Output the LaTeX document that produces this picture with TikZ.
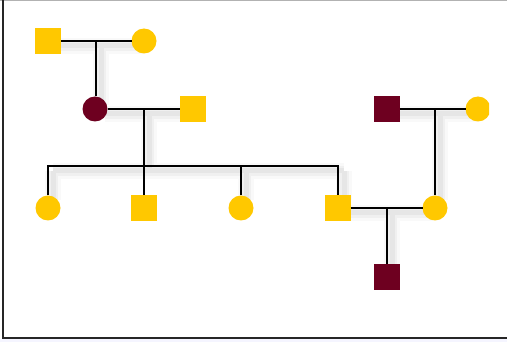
\documentclass[tikz,border=0pt]{standalone}
\usetikzlibrary{calc}
\definecolor{pyellow}{HTML}{FFC800}
\definecolor{pred}{HTML}{6E0020}
\tikzset{
  x=1pt,y=-1pt,
  sq/.style={rectangle,minimum size=25.5pt,inner sep=0pt,outer sep=0pt},
  ci/.style={circle,minimum size=25pt,inner sep=0pt,outer sep=0pt},
  yel/.style={fill=pyellow},
  red/.style={fill=pred},
  link/.style={line width=2pt,black},
  shadeA/.style={line width=16pt,black,opacity=0.025},
  shadeB/.style={line width=10pt,black,opacity=0.035},
  shadeC/.style={line width=5pt,black,opacity=0.04},
}
\newcommand{\shadowpath}{(50,41) -- (138,41) (96,41) -- (96,100) (100,109) -- (186,109) (144,109) -- (144,166)
  (48,166) -- (339,166) (48,166) -- (48,195) (241,166) -- (241,195) (339,166) -- (339,195)
  (392,109) -- (472,109) (435,109) -- (435,195) (345,208) -- (428,208) (387,208) -- (387,265)}
\begin{document}
\begin{tikzpicture}
\useasboundingbox (0,0) rectangle (507,342);
\fill[white] (0,0) rectangle (507,342);
\fill[blue!4] (0,339) rectangle (507,342);
% coordinates
\coordinate (j1) at (96,41);
\coordinate (j2) at (144,109);
\coordinate (s0) at (144,166);
\coordinate (j3) at (435,109);
\coordinate (j4) at (387,208);
% soft shadows
\begin{scope}[shift={(5,5)}]
\draw[shadeA] \shadowpath;
\draw[shadeB] \shadowpath;
\draw[shadeC] \shadowpath;
\end{scope}
\begin{scope}
\clip (0,0) rectangle (489,342);
\node[sq,yel] (gf) at (48,41) {};
\node[ci,yel] (gm) at (144,41) {};
\node[ci,red] (m) at (95,109) {};
\node[sq,yel] (f) at (193,109) {};
\node[ci,yel] (c1) at (48,208) {};
\node[sq,yel] (c2) at (144,208) {};
\node[ci,yel] (c3) at (241,208) {};
\node[sq,yel] (c4) at (338,208) {};
\node[sq,red] (rf) at (387,109) {};
\node[ci,yel] (rm) at (478,109) {};
\node[ci,yel] (w) at (435,208) {};
\node[sq,red] (ch) at (387,277) {};
\end{scope}
% connectors
\draw[link] (gf.east) -- (gm.west);
\draw[link] (j1) -- (j1 |- m.north);
\draw[link] (m.east) -- (f.west);
\draw[link] (j2) -- (s0);
\draw[link] (c1.north) |- (c4.north |- s0) -- (c4.north);
\draw[link] (c2.north) -- (c2.north |- s0);
\draw[link] (c3.north) -- (c3.north |- s0);
\draw[link] (rf.east) -- (rm.west);
\draw[link] (j3) -- (w.north);
\draw[link] (c4.east) -- (w.west);
\draw[link] (j4) -- (ch.north);
% frame
\draw[black!30,line width=1pt] (0,0.5) -- (507,0.5);
\draw[black!85,line width=2pt] (3,0) -- (3,338) -- (507,338);
\end{tikzpicture}
\end{document}
